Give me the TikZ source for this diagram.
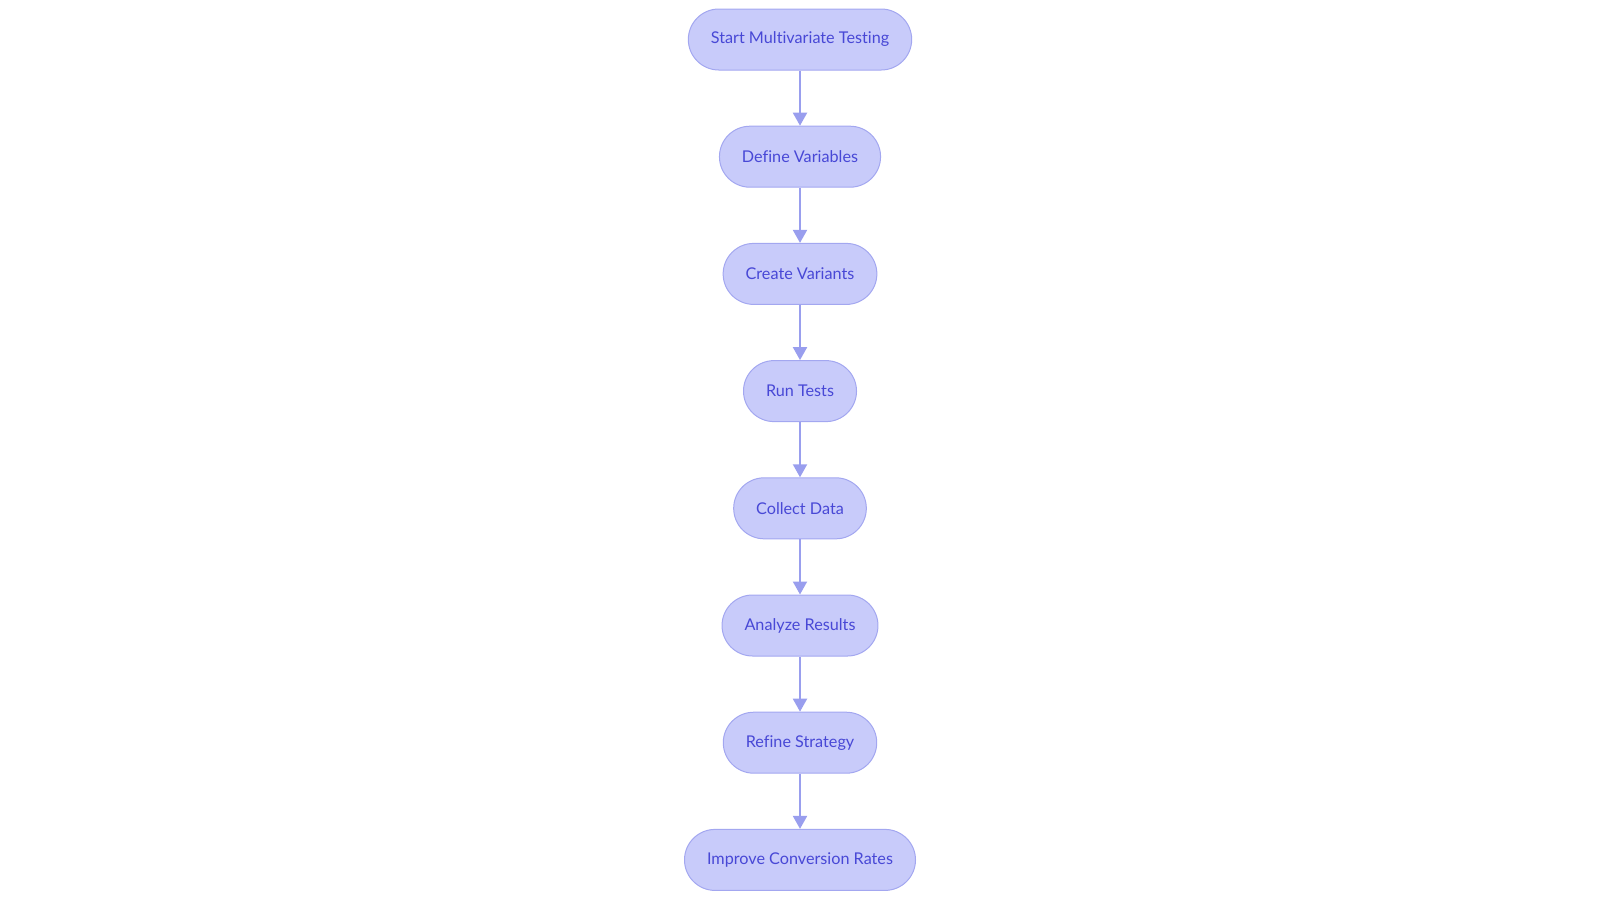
\documentclass[tikz,border=0pt]{standalone}
\usepackage{fontspec}
\setmainfont{Lato}[Ligatures={NoCommon,NoRare}]
\usetikzlibrary{positioning,arrows.meta}
\definecolor{stepfill}{HTML}{C8CBFA}
\definecolor{stepline}{HTML}{A3A7F0}
\definecolor{steptext}{HTML}{4848D6}
\definecolor{flowline}{HTML}{999EEE}
\tikzset{
  stepbox/.style={draw=stepline, fill=stepfill, line width=1pt, rounded corners=30.5pt,
    minimum height=61pt, inner xsep=22.5pt, text=steptext, font=\fontsize{16.2}{19}\selectfont},
  flow/.style={draw=flowline, line width=2pt, -{Triangle[length=13pt,width=14pt]}}
}
\begin{document}
\begin{tikzpicture}[x=1pt,y=1pt, node distance=55.2pt]
    \useasboundingbox (0,0) rectangle (1600,-903);

    \node[stepbox] (start) at (800,-39.5) {Start Multivariate Testing};
    \node[stepbox, below=of start] (define) {Define Variables};
    \node[stepbox, below=of define] (create) {Create Variants};
    \node[stepbox, below=of create] (run) {Run Tests};
    \node[stepbox, below=of run] (collect) {Collect Data};
    \node[stepbox, below=of collect] (analyze) {Analyze Results};
    \node[stepbox, below=of analyze] (refine) {Refine Strategy};
    \node[stepbox, below=of refine] (improve) {Improve Conversion Rates};

    % arrows down the chain
    \foreach \a/\b in {start/define, define/create, create/run, run/collect,
                       collect/analyze, analyze/refine, refine/improve}
        \draw[flow] (\a) -- (\b);
\end{tikzpicture}
\end{document}
